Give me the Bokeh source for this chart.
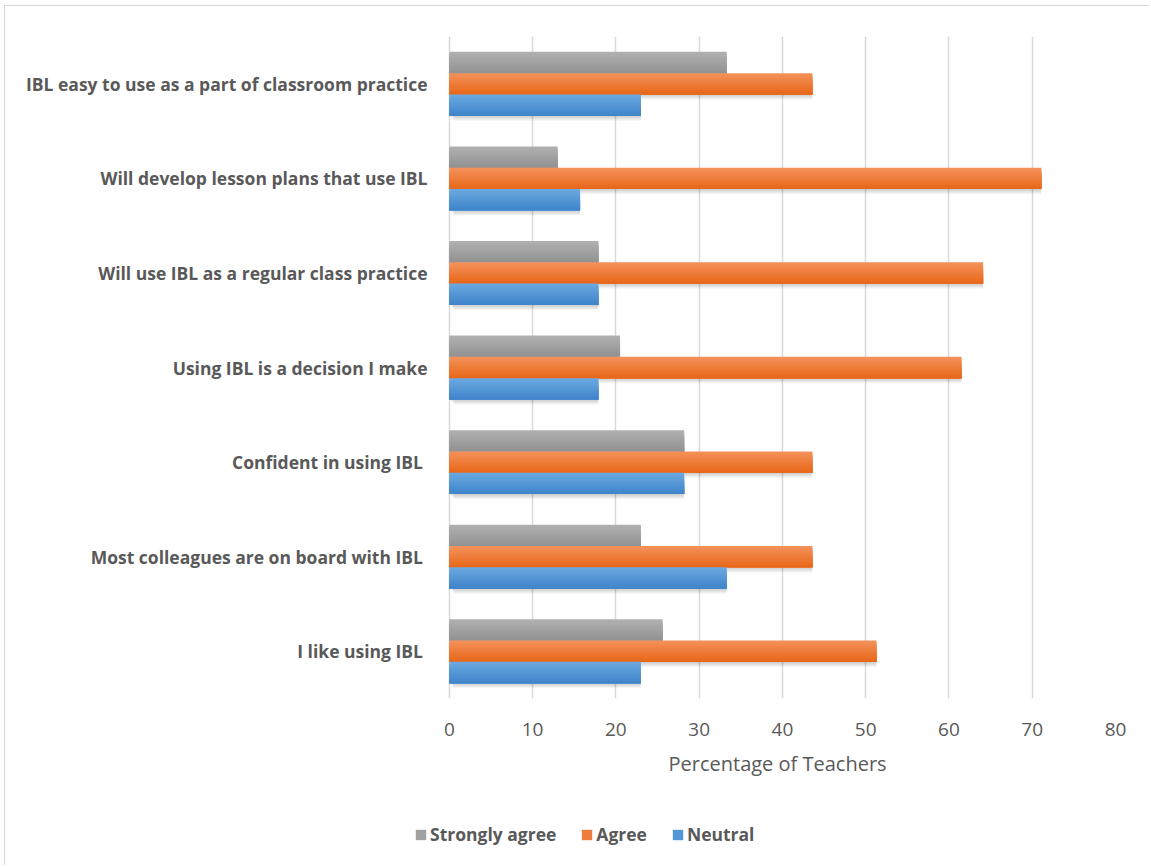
from bokeh.plotting import figure
from bokeh.models import (ColumnDataSource, FactorRange, Range1d, Legend, LegendItem,
                          FixedTicker, Title)
from bokeh.layouts import column
from bokeh.transform import dodge
from bokeh.embed import file_html
from bokeh.resources import INLINE

# ---------------- data ----------------
categories = [
    "IBL easy to use as a part of classroom practice",
    "Will develop lesson plans that use IBL",
    "Will use IBL as a regular class practice",
    "Using IBL is a decision I make",
    "Confident in using IBL ",
    "Most colleagues are on board with IBL ",
    "I like using IBL ",
]
strongly_agree = [33.3, 13.0, 17.9, 20.5, 28.2, 23.0, 25.6]
agree = [43.6, 71.1, 64.1, 61.5, 43.6, 43.6, 51.3]
neutral = [23.0, 15.7, 17.9, 17.9, 28.2, 33.3, 23.0]
series_names = ["Strongly agree", "Agree", "Neutral"]
x_ticks = [0, 10, 20, 30, 40, 50, 60, 70, 80]
x_label = "Percentage of Teachers"

# ---------------- styling ----------------
FONT = "Open Sans"
TEXT = "#595959"
GRID = "#D9D9D9"
grad = {
    "Strongly agree": ("#AFAFAF", "#939393"),
    "Agree": ("#F39058", "#E8691B"),
    "Neutral": ("#69A7E0", "#4186CB"),
}
BAR_H = 0.225
N_STRIPS = 10
X_MIN = -4.18   # blank margin left of zero so the legend row can start left of the bars

def mix(c1, c2, t):
    a = [int(c1[i:i + 2], 16) for i in (1, 3, 5)]
    b = [int(c2[i:i + 2], 16) for i in (1, 3, 5)]
    return "#%02x%02x%02x" % tuple(round(a[i] + (b[i] - a[i]) * t) for i in range(3))

source = ColumnDataSource(dict(
    cat=categories,
    sa=strongly_agree,
    ag=agree,
    ne=neutral,
))

p = figure(
    width=1144, height=800,
    y_range=FactorRange(factors=list(reversed(categories))),
    x_range=Range1d(X_MIN, 80),
    output_backend="svg", toolbar_location=None,
    min_border_left=409, min_border_right=34, min_border_top=30, min_border_bottom=108,
)
p.outline_line_color = None
p.background_fill_color = "white"
p.border_fill_color = "white"

cols = ["sa", "ag", "ne"]
offsets = [BAR_H, 0.0, -BAR_H]

# soft drop shadows
for col, off in zip(cols, offsets):
    for k in range(1, 6):
        dx = 0.11 * k
        dy = -0.011 * k
        p.hbar(y=dodge("cat", off + dy, range=p.y_range), left=dx, right=col,
               height=BAR_H, source=source, fill_color="black", fill_alpha=0.04,
               line_color=None)

# bars with vertical gradient (nested rects, each covering to the bar bottom)
for name, col, off in zip(series_names, cols, offsets):
    top_c, bot_c = grad[name]
    sh = BAR_H / N_STRIPS
    bar_top = off + BAR_H / 2
    for k in range(N_STRIPS):
        h = BAR_H - k * sh
        yc = bar_top - k * sh - h / 2
        c = mix(top_c, bot_c, k / (N_STRIPS - 1))
        p.hbar(y=dodge("cat", yc, range=p.y_range), left=0, right=col,
               height=h, source=source, fill_color=c, line_color=None)

# axes
p.xaxis.ticker = FixedTicker(ticks=x_ticks)
p.xaxis.axis_line_color = None
p.xaxis.major_tick_line_color = None
p.xaxis.minor_tick_line_color = None
p.xaxis.major_label_text_font = FONT
p.xaxis.major_label_text_font_size = "19px"
p.xaxis.major_label_text_color = TEXT
p.xaxis.major_label_standoff = 18

# x-axis title, positioned under the 0-80 span
p.add_layout(Title(text=x_label, align="left", offset=254, standoff=19,
                   text_font=FONT, text_font_style="normal", text_font_size="20px",
                   text_color=TEXT), "below")

p.yaxis.axis_line_color = None
p.yaxis.major_tick_line_color = None
p.yaxis.minor_tick_line_color = None
p.yaxis.major_label_text_font = FONT
p.yaxis.major_label_text_font_style = "bold"
p.yaxis.major_label_text_font_size = "17.5px"
p.yaxis.major_label_text_color = TEXT
p.yaxis.major_label_standoff = -19

p.xgrid.grid_line_color = GRID
p.xgrid.grid_line_width = 1.5
p.ygrid.grid_line_color = None

# ---------------- legend strip (separate small figure) ----------------
pl = figure(
    width=1144, height=59,
    x_range=Range1d(0, 1), y_range=Range1d(0, 1),
    output_backend="svg", toolbar_location=None,
    min_border_left=409, min_border_right=34, min_border_top=0, min_border_bottom=0,
    x_axis_type=None, y_axis_type=None,
)
pl.outline_line_color = None
pl.grid.grid_line_color = None
pl.border_fill_color = "white"
pl.background_fill_color = "white"
items = []
for name in series_names:
    top_c, bot_c = grad[name]
    # proxy glyph outside the visible range, only used for the legend swatch
    r = pl.hbar(y=[-5], left=[0], right=[1], height=0.1,
                fill_color=mix(top_c, bot_c, 0.5), line_color=None)
    items.append(LegendItem(label=name, renderers=[r]))

legend = Legend(
    items=items,
    orientation="horizontal",
    location=(0, 19),
    label_text_font=FONT,
    label_text_font_style="bold",
    label_text_font_size="17.5px",
    label_text_color=TEXT,
    label_height=20,
    glyph_width=13, glyph_height=13,
    label_standoff=3, spacing=24,
    padding=0, margin=0,
    border_line_color=None, background_fill_alpha=0,
)
pl.add_layout(legend, "center")

layout = column(p, pl, spacing=0, margin=(5, 0, 0, 4),
                styles={"border-top": "1.5px solid #D9D9D9",
                        "border-left": "1.5px solid #D9D9D9"})

open("out.html", "w").write(file_html(layout, INLINE))
